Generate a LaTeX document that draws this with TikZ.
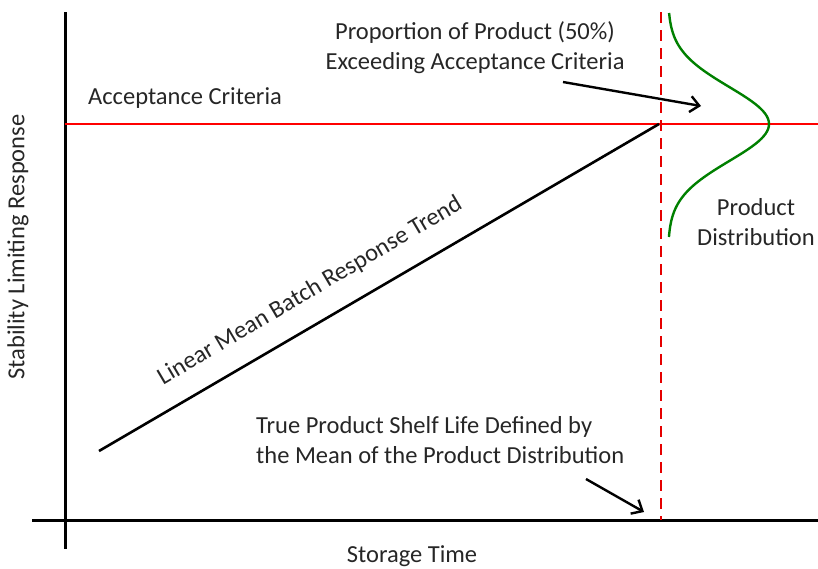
\documentclass[tikz,border=0pt]{standalone}
\usepackage{fontspec}
\setmainfont{Carlito}
\usetikzlibrary{positioning,arrows.meta}

\begin{document}
\begin{tikzpicture}[
x=1pt, y=-1pt,
label/.style={inner sep=0pt, font=\fontsize{24.5}{30}\selectfont, align=center, text=black!85},
axis/.style={line width=3pt},
trend/.style={line width=2.6pt},
limit/.style={draw=red, line width=2pt},
shelf/.style={draw=red!90!black, line width=2.4pt, dash pattern=on 11pt off 7pt},
dist/.style={draw=green!50!black, line width=2.4pt},
pointer/.style={-{Straight Barb[length=9pt,width=16pt]}, line width=2.4pt},
]
\useasboundingbox (0,0) rectangle (818,568);

% axes
\coordinate (ytop) at (65,12);
\coordinate (ybot) at (65,549);
\coordinate (xleft) at (32,520);
\coordinate (xright) at (818,520);
\draw[axis] (ytop) -- (ybot);
\draw[axis] (xleft) -- (xright);

% acceptance limit and shelf life
\coordinate (limleft) at (65,124);
\coordinate (limright) at (818,124);
\coordinate (shelftop) at (661,12);
\coordinate (shelfbot) at (661,520);
\draw[limit] (limleft) -- (limright);
\draw[shelf] (shelftop) -- (shelfbot);

% mean trend
\coordinate (trendstart) at (99,451);
\coordinate (trendend) at (659,124);
\draw[trend] (trendstart) -- (trendend);

% product distribution
\draw[dist] plot[domain=13:237, samples=90, smooth] ({668+101*exp(-((\x-124)/37)^2/2)}, \x);

% labels
\node[label] (accept) at (185,98) {Acceptance Criteria};
\node[label] (exceed) at (475,48) {Proportion of Product (50\%)\\Exceeding Acceptance Criteria};
\node[label] (distr) at (756,222) {Product\\Distribution};
\node[label, rotate=30.5] (trendlbl) at (310,291) {Linear Mean Batch Response Trend};
\node[label, align=left, anchor=west] (truelife) at (256,440) {True Product Shelf Life Defined by\\the Mean of the Product Distribution};
\node[label, rotate=90] (ylbl) at (18,247) {Stability Limiting Response};
\node[label] (xlbl) at (412,556) {Storage Time};

% pointers
\coordinate (exceedtail) at (563,82);
\coordinate (exceedhead) at (701,106);
\coordinate (lifetail) at (586,479);
\coordinate (lifehead) at (644,512);
\draw[pointer] (exceedtail) -- (exceedhead);
\draw[pointer] (lifetail) -- (lifehead);

\end{tikzpicture}
\end{document}
